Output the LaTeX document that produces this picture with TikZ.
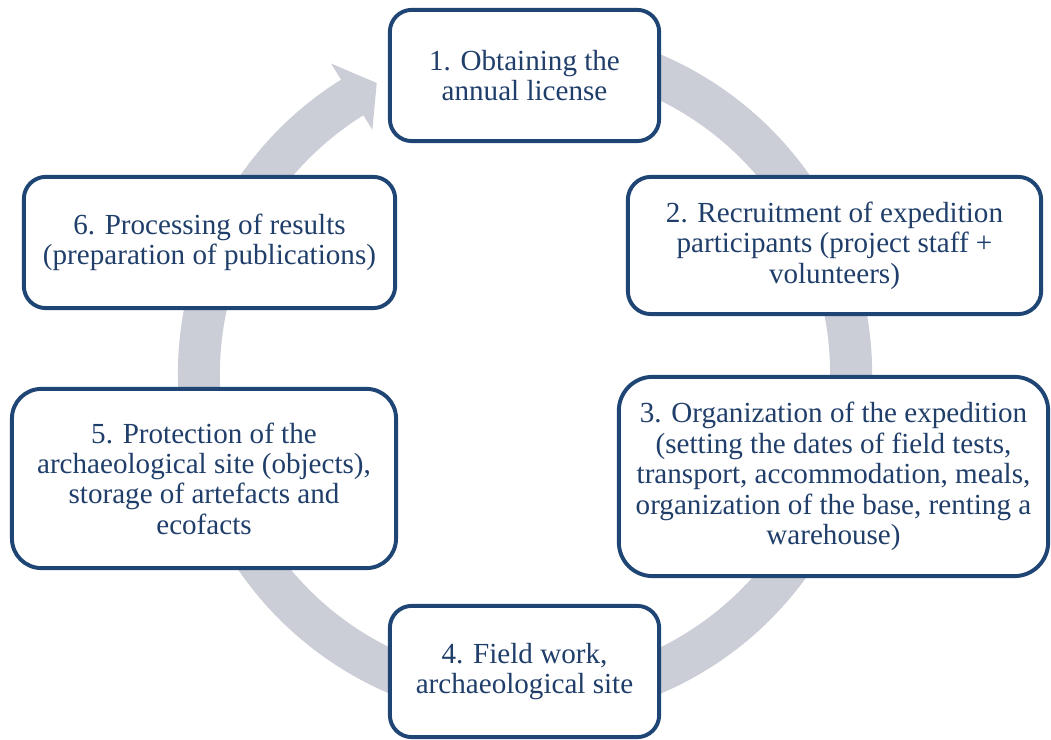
\documentclass[tikz,border=0pt]{standalone}
\usepackage{fontspec}
\setmainfont{Liberation Serif}
\definecolor{stageblue}{RGB}{31,69,117}
\definecolor{textblue}{RGB}{32,62,106}
\definecolor{ringgray}{RGB}{203,205,215}
\begin{document}
\begin{tikzpicture}[x=0.025cm,y=0.025cm]
    \tikzset{stage/.style = {shape=rectangle,draw=stageblue,line width=2.8pt,fill=white,text=textblue,align=center,inner sep=0pt,font=\fontsize{20.7}{21.6}\selectfont}}
    \useasboundingbox (0,0) rectangle (1051,740);
    \begin{scope}[shift={(525,366)}]
    \fill[ringgray] (100:8.675cm) arc[start angle=100, end angle=-238, radius=8.675cm] -- (122:9.15cm) -- (117:8.1625cm) -- (122:7.2cm) -- (122:7.625cm) arc[start angle=-238, end angle=100, radius=7.625cm] -- cycle;
    \end{scope}
    \node[stage, rounded corners=15.6pt, minimum width=6.73cm, minimum height=3.28cm] (lic) at (524.5,664.5) {1. Obtaining the\\annual license};
    \node[stage, rounded corners=16.4pt, minimum width=10.33cm, minimum height=3.43cm] (recr) at (834.5,494.5) {2. Recruitment of expedition\\participants (project staff +\\volunteers)};
    \node[stage, rounded corners=24pt, minimum width=10.73cm, minimum height=4.98cm] (org) at (833.5,263.5) {3. Organization of the expedition\\(setting the dates of field tests,\\transport, accommodation, meals,\\organization of the base, renting a\\warehouse)};
    \node[stage, rounded corners=15.6pt, minimum width=6.73cm, minimum height=3.28cm] (field) at (524.5,68.5) {4. Field work,\\archaeological site};
    \node[stage, rounded corners=21pt, minimum width=9.6cm, minimum height=4.48cm] (prot) at (204,261.5) {5. Protection of the\\archaeological site (objects),\\storage of artefacts and\\ecofacts};
    \node[stage, rounded corners=15.6pt, minimum width=9.28cm, minimum height=3.28cm] (proc) at (209.5,497.5) {6. Processing of results\\(preparation of publications)};
\end{tikzpicture}
\end{document}
